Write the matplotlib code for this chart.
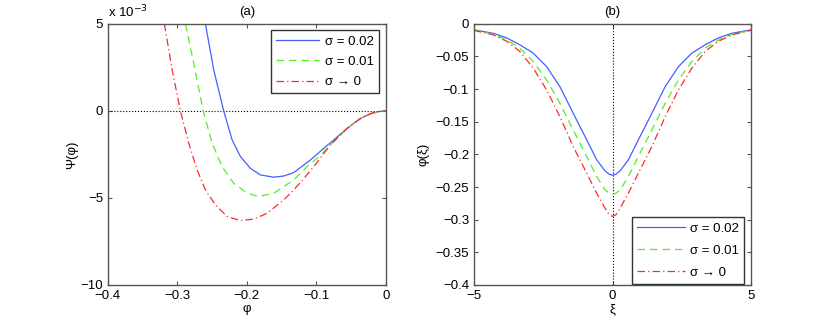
import numpy as np
import matplotlib
matplotlib.use('Agg')
import matplotlib.pyplot as plt
from matplotlib.ticker import FuncFormatter

plt.rcParams['font.family'] = ['Liberation Sans', 'DejaVu Sans']
plt.rcParams['font.size'] = 9.5

# (a) Sagdeev potential, psi values in units of 1e-3
phi_a_1 = [-0.2597, -0.2478, -0.2334, -0.2213, -0.2094, -0.195, -0.1806, -0.1614, -0.147,
           -0.1327, -0.1086, -0.090, -0.0751, -0.060, -0.0463, -0.033, -0.0223, -0.010, 0.0]
psi_a_1 = [5.0, 2.36, 0.0, -1.67, -2.62, -3.30, -3.68, -3.81, -3.74,
           -3.55, -2.82, -2.17, -1.67, -1.15, -0.71, -0.36, -0.17, -0.04, 0.0]
phi_a_2 = [-0.2885, -0.2765, -0.263, -0.250, -0.2357, -0.219, -0.1997, -0.183, -0.1614,
           -0.1327, -0.1134, -0.0942, -0.0702, -0.055, -0.0415, -0.030, -0.020, -0.010, 0.0]
psi_a_2 = [5.0, 2.74, 0.0, -1.86, -3.20, -4.16, -4.73, -4.92, -4.73,
           -3.97, -3.20, -2.55, -1.57, -1.0, -0.56, -0.30, -0.15, -0.04, 0.0]
phi_a_3 = [-0.3187, -0.3076, -0.2957, -0.2837, -0.2717, -0.2597, -0.2453, -0.2285, -0.2094,
           -0.1902, -0.1709, -0.147, -0.1327, -0.1183, -0.1039, -0.0799, -0.0558, -0.0367,
           -0.020, -0.010, 0.0]
psi_a_3 = [5.0, 2.36, 0.0, -1.86, -3.39, -4.54, -5.40, -6.07, -6.30,
           -6.22, -5.88, -5.11, -4.54, -3.90, -3.20, -1.95, -1.0, -0.42,
           -0.12, -0.03, 0.0]

# (b) soliton profiles, read on xi <= 0 (curves are symmetric)
xi_b = [-5.0, -4.3, -3.80, -3.34, -2.86, -2.38, -1.90, -1.42, -0.93, -0.57, -0.27, -0.12, 0.0]
phi_b_1 = [-0.0092, -0.0145, -0.0219, -0.0322, -0.0449, -0.0654, -0.0961, -0.1369, -0.1778,
           -0.2084, -0.2253, -0.2303, -0.232]
phi_b_2 = [-0.0095, -0.016, -0.025, -0.0373, -0.0577, -0.0858, -0.1216, -0.1625, -0.2033,
           -0.234, -0.2544, -0.2595, -0.261]
phi_b_3 = [-0.010, -0.017, -0.0271, -0.0424, -0.0679, -0.1011, -0.142, -0.188, -0.2288,
           -0.2595, -0.2825, -0.2925, -0.295]

labels = ['σ = 0.02', 'σ = 0.01', 'σ → 0']
colors = ['#4060ff', '#55ee22', '#ff2a2a']
styles = ['-', (0, (6, 4)), (0, (6, 2.5, 1, 2.5))]


def mirror(x, y):
    x = np.array(x)
    y = np.array(y)
    return np.concatenate([x, -x[::-1][1:]]), np.concatenate([y, y[::-1][1:]])


def matlab_style(ax):
    for s in ax.spines.values():
        s.set_color('#555555')
        s.set_linewidth(1.0)
    ax.tick_params(direction='in', top=True, right=True, length=3, color='#555555')


fmt = FuncFormatter(lambda v, p: ('%g' % round(v, 6)).replace('-', '\u2212'))

fig = plt.figure(figsize=(8.3, 3.22), dpi=100)
ax1 = fig.add_axes([0.130, 0.115, 0.335, 0.811])
ax2 = fig.add_axes([0.571, 0.115, 0.334, 0.811])

# left panel
ax1.plot([-0.4, 0], [0, 0], color='k', linestyle=':', linewidth=0.8)
for (x, y), lab, c, ls in zip([(phi_a_1, psi_a_1), (phi_a_2, psi_a_2), (phi_a_3, psi_a_3)],
                              labels, colors, styles):
    ax1.plot(x, y, color=c, linestyle=ls, linewidth=0.9, label=lab)
ax1.set_xlim(-0.4, 0)
ax1.set_ylim(-10, 5)
ax1.set_xticks([-0.4, -0.3, -0.2, -0.1, 0])
ax1.set_yticks([-10, -5, 0, 5])
ax1.xaxis.set_major_formatter(fmt)
ax1.yaxis.set_major_formatter(fmt)
ax1.set_xlabel('φ', labelpad=1)
ax1.set_ylabel('Ψ(φ)', labelpad=2)
ax1.set_title('(a)', fontsize=9.5, pad=6)
ax1.text(0.0, 1.012, 'x 10$^{-3}$', transform=ax1.transAxes, fontsize=9.5, ha='left', va='bottom')
matlab_style(ax1)
leg1 = ax1.legend(loc='upper right', bbox_to_anchor=(0.975, 0.975), fancybox=False,
                  edgecolor='#333333', framealpha=1, handlelength=3.3, handletextpad=0.4,
                  borderaxespad=0.0, labelspacing=0.6)
leg1.get_frame().set_linewidth(1.0)

# right panel
ax2.plot([0, 0], [-0.4, 0], color='k', linestyle=':', linewidth=0.8)
for y, lab, c, ls in zip([phi_b_1, phi_b_2, phi_b_3], labels, colors, styles):
    xx, yy = mirror(xi_b, y)
    ax2.plot(xx, yy, color=c, linestyle=ls, linewidth=0.9, label=lab)
ax2.set_xlim(-5, 5)
ax2.set_ylim(-0.4, 0)
ax2.set_xticks([-5, 0, 5])
ax2.set_yticks([-0.4, -0.35, -0.3, -0.25, -0.2, -0.15, -0.1, -0.05, 0])
ax2.xaxis.set_major_formatter(fmt)
ax2.yaxis.set_major_formatter(fmt)
ax2.set_xlabel('ξ', labelpad=1)
ax2.set_ylabel('φ(ξ)', labelpad=4)
ax2.set_title('(b)', fontsize=9.5, pad=6)
matlab_style(ax2)
leg2 = ax2.legend(loc='lower right', bbox_to_anchor=(0.975, 0.003), fancybox=False,
                  edgecolor='#333333', framealpha=1, handlelength=3.6, handletextpad=0.4,
                  borderaxespad=0.0, labelspacing=0.75)
leg2.get_frame().set_linewidth(1.0)

fig.savefig('out.png', dpi=100)
